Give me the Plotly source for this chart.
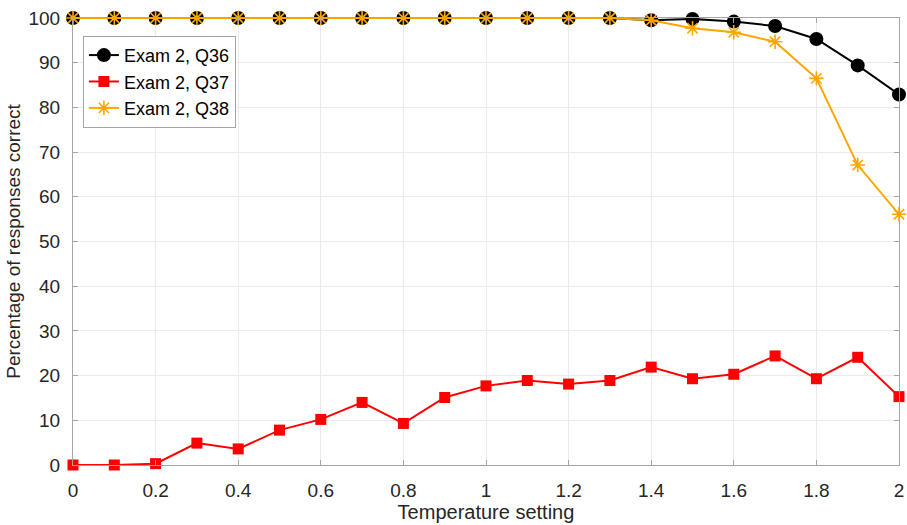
import plotly.graph_objects as go

temps = [round(0.1 * i, 1) for i in range(21)]
q36 = [100, 100, 100, 100, 100, 100, 100, 100, 100, 100, 100, 100, 100, 100,
       99.5, 99.8, 99.2, 98.2, 95.3, 89.4, 82.9]
q37 = [0, 0, 0.3, 4.9, 3.6, 7.8, 10.2, 14.0, 9.3, 15.1, 17.7, 18.9, 18.1, 18.9,
       21.9, 19.3, 20.3, 24.4, 19.3, 24.1, 15.3]
q38 = [100, 100, 100, 100, 100, 100, 100, 100, 100, 100, 100, 100, 100, 100,
       99.5, 97.7, 96.8, 94.7, 86.5, 67.1, 56.1]

xticks = [0, 0.2, 0.4, 0.6, 0.8, 1, 1.2, 1.4, 1.6, 1.8, 2]
yticks = [0, 10, 20, 30, 40, 50, 60, 70, 80, 90, 100]

FONT = "Liberation Sans, Arial"

fig = go.Figure()
fig.add_trace(go.Scatter(x=temps, y=q36, name="Exam 2, Q36", mode="lines+markers",
                         line=dict(color="black", width=2),
                         marker=dict(symbol="circle", size=14, color="black"),
                         cliponaxis=False))
fig.add_trace(go.Scatter(x=temps, y=q37, name="Exam 2, Q37", mode="lines+markers",
                         line=dict(color="#ff0000", width=2),
                         marker=dict(symbol="square", size=11, color="#ff0000"),
                         cliponaxis=False))
fig.add_trace(go.Scatter(x=temps, y=q38, name="Exam 2, Q38", mode="lines+markers",
                         line=dict(color="#ffa500", width=2),
                         marker=dict(symbol="asterisk-open", size=12, color="#ffa500",
                                     line=dict(color="#ffa500", width=1.6)),
                         cliponaxis=False))

axis_common = dict(showgrid=True, gridcolor="#ebebeb", gridwidth=1,
                   showline=True, linecolor="#a6a6a6", linewidth=1,
                   mirror="ticks", ticks="inside", ticklen=5, tickcolor="#a6a6a6",
                   zeroline=False, automargin=False,
                   tickfont=dict(family=FONT, size=19, color="#262626"))

fig.update_xaxes(range=[0, 2], tickvals=xticks, ticktext=[f"{v:g}" for v in xticks],
                 ticklabelstandoff=8,
                 title=dict(text="Temperature setting", standoff=2,
                            font=dict(family=FONT, size=20, color="#262626")),
                 **axis_common)
fig.update_yaxes(range=[0, 100], tickvals=yticks, ticktext=[str(v) for v in yticks],
                 ticklabelstandoff=8,
                 title=dict(text="Percentage of responses correct", standoff=2,
                            font=dict(family=FONT, size=19, color="#262626")),
                 **axis_common)

fig.update_layout(
    width=907, height=525,
    margin=dict(l=73, r=8, t=18, b=60),
    paper_bgcolor="white", plot_bgcolor="white",
    showlegend=True,
    legend=dict(x=0.012, y=0.96, xanchor="left", yanchor="top",
                bgcolor="white", bordercolor="#a6a6a6", borderwidth=1,
                font=dict(family=FONT, size=18, color="black"),
                tracegroupgap=0, itemwidth=30),
)

fig.write_html("out.html", config={"displayModeBar": False},
               post_script="document.body.style.margin='0px';")
